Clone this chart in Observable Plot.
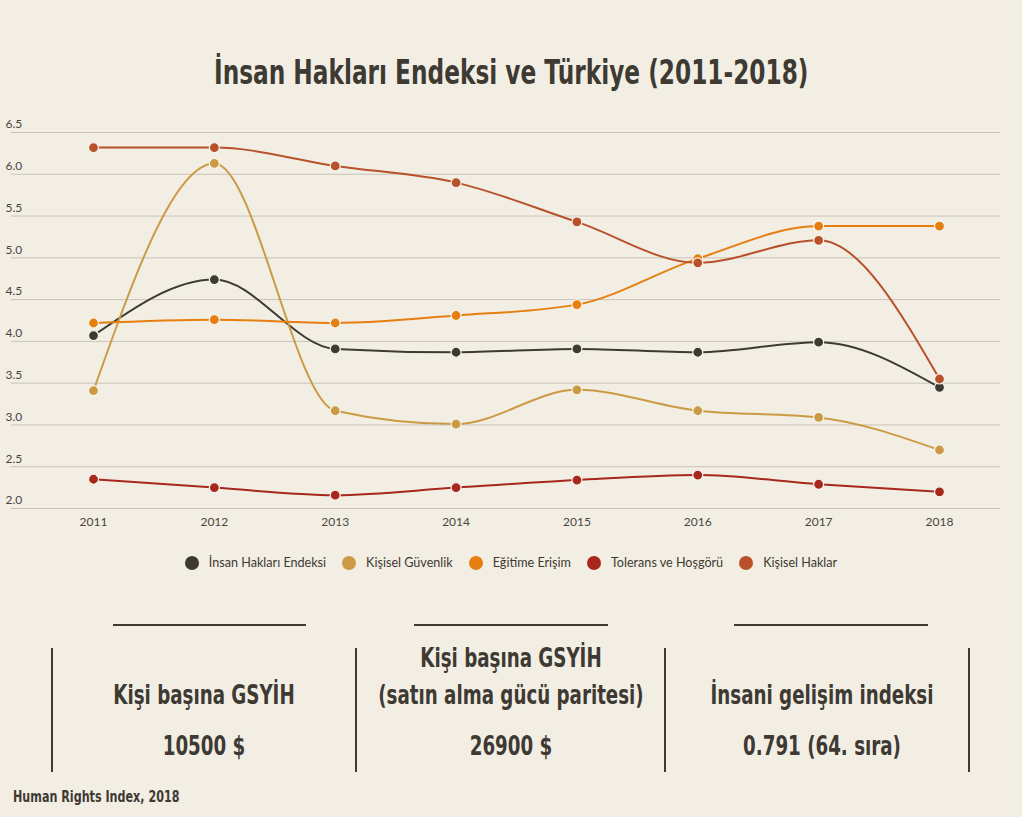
<!DOCTYPE html>
<html>
<head>
<meta charset="utf-8">
<script src="https://cdn.jsdelivr.net/npm/d3@7"></script>
<script src="https://cdn.jsdelivr.net/npm/@observablehq/plot@0.6"></script>
<style>
  html, body { margin: 0; padding: 0; background: #f2eee3; }
  #page { position: relative; width: 1022px; height: 817px; background: #f2eee3; overflow: hidden; color: #3e3a33; }
  .narrow { font-family: "Liberation Sans Narrow", "DejaVu Sans Condensed", "Roboto Condensed", "Liberation Sans", sans-serif; font-stretch: condensed; font-weight: bold; }
  #title { position: absolute; left: 0; width: 1022px; top: 50px; text-align: center; font-size: 34px; line-height: 44px; transform: scaleX(0.76); transform-origin: 512px 0; }
  #chart { position: absolute; left: 0; top: 100px; }
  #legend { position: absolute; left: 0; width: 1022px; top: 555px; display: flex; justify-content: center; align-items: center; font-family: "Lato", "Open Sans", sans-serif; font-size: 12.6px; color: #3e3a33; }
  .li { display: flex; align-items: center; margin: 0 8px; }
  .sw { width: 14px; height: 14px; border-radius: 50%; margin-right: 10px; }
  .hl { position: absolute; top: 624px; height: 2px; background: #3e3a33; }
  .vl { position: absolute; top: 648px; width: 2px; height: 124px; background: #3e3a33; }
  .st { position: absolute; text-align: center; font-size: 26px; line-height: 30px; transform: scaleX(0.78); transform-origin: 200px 0; }
  #caption { position: absolute; left: 13px; top: 788px; font-size: 15.5px; transform: scaleX(0.8); transform-origin: 0 0; white-space: nowrap; }
</style>
</head>
<body>
<div id="page">
  <div id="title" class="narrow"></div>
  <div id="chart"></div>
  <div id="legend"></div>
  <div id="stats"></div>
  <div id="caption" class="narrow"></div>
</div>
<script>
const titleText = "İnsan Hakları Endeksi ve Türkiye (2011-2018)";
const captionText = "Human Rights Index, 2018";
const years = [2011, 2012, 2013, 2014, 2015, 2016, 2017, 2018];
const seriesNames = ["İnsan Hakları Endeksi", "Kişisel Güvenlik", "Eğitime Erişim", "Tolerans ve Hoşgörü", "Kişisel Haklar"];
const seriesColors = ["#3e3a33", "#cc9a45", "#e67e10", "#a8271d", "#b8512b"];
const insanHaklari = [4.07, 4.74, 3.91, 3.87, 3.91, 3.87, 3.99, 3.45];
const kisiselGuvenlik = [3.41, 6.13, 3.17, 3.01, 3.42, 3.17, 3.09, 2.70];
const egitimeErisim = [4.22, 4.26, 4.22, 4.31, 4.44, 4.99, 5.38, 5.38];
const toleransHosgoru = [2.35, 2.25, 2.16, 2.25, 2.34, 2.40, 2.29, 2.20];
const kisiselHaklar = [6.32, 6.32, 6.10, 5.90, 5.43, 4.94, 5.21, 3.55];
const yTicks = [2.0, 2.5, 3.0, 3.5, 4.0, 4.5, 5.0, 5.5, 6.0, 6.5];
const statLabels = [["Kişi başına GSYİH"], ["Kişi başına GSYİH", "(satın alma gücü paritesi)"], ["İnsani gelişim indeksi"]];
const statValues = ["10500 $", "26900 $", "0.791 (64. sıra)"];

const seriesValues = [insanHaklari, kisiselGuvenlik, egitimeErisim, toleransHosgoru, kisiselHaklar];
const data = [];
seriesNames.forEach((name, i) => {
  years.forEach((yr, j) => data.push({series: name, year: yr, value: seriesValues[i][j]}));
});

document.getElementById("title").textContent = titleText;
document.getElementById("caption").textContent = captionText;

const chart = Plot.plot({
  width: 1022,
  height: 438,
  marginTop: 32,
  marginBottom: 30,
  marginLeft: 11,
  marginRight: 22,
  style: {background: "transparent", fontFamily: "Lato, 'Open Sans', sans-serif", fontSize: "12px", color: "#4a463f"},
  x: {domain: [2011, 2018], insetLeft: 82, insetRight: 61},
  y: {domain: [2, 6.5]},
  color: {domain: seriesNames, range: seriesColors},
  marks: [
    Plot.gridY(yTicks, {stroke: "#c8c3b9", strokeOpacity: 1, strokeWidth: 1}),
    Plot.axisY(yTicks, {tickSize: 0, textAnchor: "start", dx: 3, dy: -8, tickFormat: d => d.toFixed(1), label: null, fill: "#4a463f"}),
    Plot.axisX(years, {tickSize: 0, tickPadding: 9, tickFormat: d => String(d), label: null, fill: "#4a463f"}),
    Plot.line(data, {x: "year", y: "value", z: "series", stroke: "series", curve: "monotone-x", strokeWidth: 2}),
    Plot.dot(data, {x: "year", y: "value", fill: "series", r: 5, stroke: "#f7f4ec", strokeWidth: 1.2})
  ]
});
document.getElementById("chart").appendChild(chart);

const legend = document.getElementById("legend");
seriesNames.forEach((name, i) => {
  const item = document.createElement("div");
  item.className = "li";
  const sw = document.createElement("div");
  sw.className = "sw";
  sw.style.background = seriesColors[i];
  const t = document.createElement("span");
  t.textContent = name;
  item.appendChild(sw);
  item.appendChild(t);
  legend.appendChild(item);
});

const stats = document.getElementById("stats");
const hlPos = [[113, 193], [414, 194], [734, 194]];
const vlPos = [51, 355, 664, 968];
const colCenters = [204, 511, 822];
hlPos.forEach(([l, w]) => {
  const d = document.createElement("div");
  d.className = "hl"; d.style.left = l + "px"; d.style.width = w + "px";
  stats.appendChild(d);
});
vlPos.forEach(l => {
  const d = document.createElement("div");
  d.className = "vl"; d.style.left = l + "px";
  stats.appendChild(d);
});
statLabels.forEach((lines, i) => {
  lines.forEach((txt, k) => {
    const d = document.createElement("div");
    d.className = "st narrow";
    d.textContent = txt;
    d.style.left = (colCenters[i] - 200) + "px";
    d.style.width = "400px";
    const top = lines.length === 2 ? (k === 0 ? 643 : 680) : 680;
    d.style.top = top + "px";
    stats.appendChild(d);
  });
  const v = document.createElement("div");
  v.className = "st narrow";
  v.textContent = statValues[i];
  v.style.left = (colCenters[i] - 200) + "px";
  v.style.width = "400px";
  v.style.top = "731px";
  stats.appendChild(v);
});
</script>
</body>
</html>
